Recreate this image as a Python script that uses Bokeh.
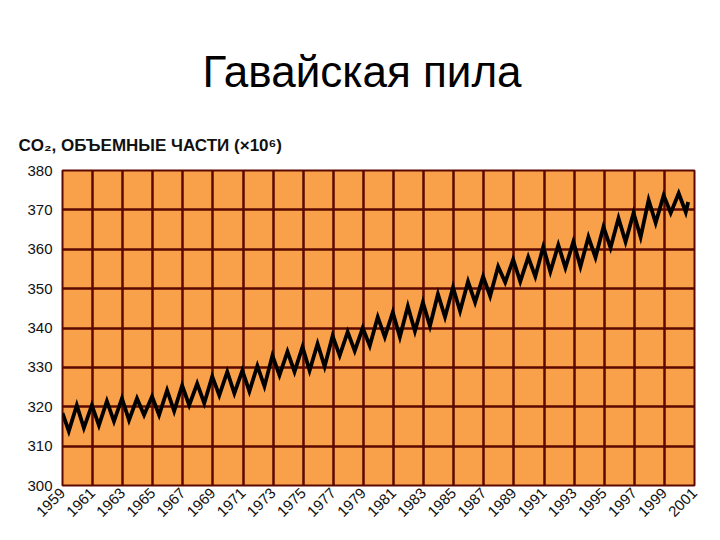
import numpy as np
from bokeh.plotting import figure
from bokeh.models import FixedTicker, Title
from bokeh.embed import file_html
from bokeh.resources import INLINE

# ---- data (ppm) ----
start_year = 1959.0
start_value = 318.4
trough_years = list(range(1959, 2001))          # autumn minimum of each year
trough_values = [313.8, 314.6, 315.3, 316.3, 316.6, 317.9, 317.9, 318.9, 320.4, 320.9,
                 322.9, 323.4, 323.9, 325.2, 328.0, 328.9, 329.2, 330.2, 333.0, 334.2, 335.5,
                 337.7, 337.7, 339.2, 340.5, 342.8, 344.3, 346.5, 348.1, 351.6, 351.8,
                 353.1, 354.3, 355.3, 355.6, 357.9, 360.4, 361.9, 363.1, 366.7, 369.2, 369.4]
peak_years = list(range(1960, 2001))            # spring maximum of each year
peak_values = [320.4, 320.4, 321.4, 322.1, 322.1, 322.6, 324.2, 325.4, 325.9, 327.7,
               328.9, 329.2, 330.4, 333.0, 334.0, 335.2, 336.0, 338.0, 339.0, 340.0,
               342.8, 344.0, 345.5, 346.5, 348.6, 350.3, 351.8, 353.1, 355.6, 357.4,
               358.0, 360.6, 361.1, 361.9, 363.1, 365.7, 367.9, 369.2, 372.5, 373.7, 374.2]
end_value = 372.0
x_tick_years = list(range(1959, 2002, 2))
y_ticks = list(range(300, 381, 10))

PEAK_PHASE = -0.05   # fraction of year where spring maximum sits
TROUGH_PHASE = 0.42  # fraction of year where autumn minimum sits
END_PHASE = 0.58

# build the sawtooth series from the extrema
pts = [(start_year, start_value)]
for y, v in zip(trough_years, trough_values):
    pts.append((y + TROUGH_PHASE, v))
for y, v in zip(peak_years, peak_values):
    pts.append((y + PEAK_PHASE, v))
pts.sort()
pts.append((peak_years[-1] + END_PHASE, end_value))
xs = [p[0] for p in pts]
ys = [p[1] for p in pts]

ORANGE = "#F9A04A"
GRID = "#5A0800"

p = figure(width=704, height=524, x_range=(1959, 2001), y_range=(300, 380),
           output_backend="svg", toolbar_location=None, title=None,
           min_border_left=62, min_border_right=10, min_border_bottom=36, min_border_top=170)

p.background_fill_color = ORANGE
p.border_fill_color = "white"
p.outline_line_color = GRID
p.outline_line_width = 2

p.add_layout(Title(text="CO\u2082, ОБЪЕМНЫЕ ЧАСТИ (\u00d710\u2076)", align="left", offset=-44,
                   text_font="Liberation Sans", text_font_size="17px", text_font_style="bold",
                   text_color="#111111", standoff=32), "above")
p.add_layout(Title(text="Гавайская пила", align="left", offset=140,
                   text_font="Liberation Sans", text_font_size="44px", text_font_style="normal",
                   text_color="black", standoff=44), "above")

p.xaxis.ticker = FixedTicker(ticks=x_tick_years)
p.yaxis.ticker = FixedTicker(ticks=y_ticks)
for ax in (p.xaxis, p.yaxis):
    ax.axis_line_color = None
    ax.major_tick_line_color = None
    ax.minor_tick_line_color = None
    ax.major_tick_out = 0
    ax.major_tick_in = 0
    ax.minor_tick_out = 0
    ax.minor_tick_in = 0
    ax.major_label_text_font = "Liberation Sans"
    ax.major_label_text_font_size = "15px"
    ax.major_label_text_color = "#111111"
p.xaxis.major_label_orientation = np.pi / 4
p.xaxis.major_label_standoff = 5
p.yaxis.major_label_standoff = 10

p.xgrid.ticker = FixedTicker(ticks=x_tick_years)
p.ygrid.ticker = FixedTicker(ticks=y_ticks)
for g in (p.xgrid, p.ygrid):
    g.grid_line_color = GRID
    g.grid_line_width = 2.5
    g.grid_line_alpha = 1.0

p.line(xs, ys, line_color="black", line_width=3.8, line_join="miter")

open("out.html", "w").write(file_html(p, INLINE))
